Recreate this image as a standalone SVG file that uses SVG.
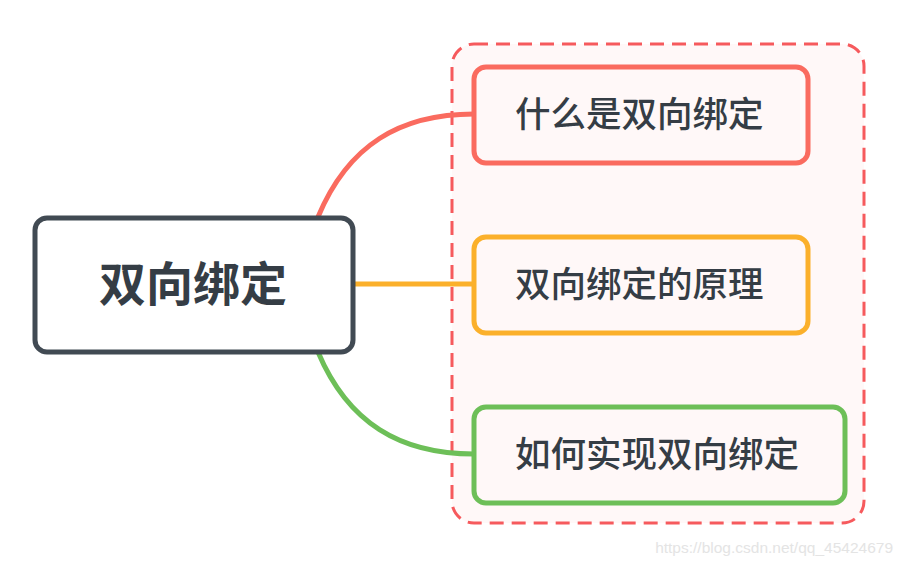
<svg xmlns="http://www.w3.org/2000/svg" width="902" height="566" viewBox="0 0 902 566">
<style>
text{font-family:"Noto Sans CJK SC","Liberation Sans",sans-serif;fill:#353d45}
.c{font-size:35.5px;font-weight:500}
.n{fill:#fff8f8;stroke-width:5}
.l{fill:none;stroke-width:5}
</style>
<rect width="902" height="566" fill="#fff"/>
<rect x="452" y="44" width="412" height="479" rx="22" fill="#fff8f8" stroke="#f65a5d" stroke-width="3" stroke-dasharray="14,8"/>
<g id="connectors">
<path class="l" stroke="#fa6b5f" d="M318,217 C348,145 400,114 474,114"/>
<path class="l" stroke="#fbb02b" d="M353,284 H474"/>
<path class="l" stroke="#6dbf58" d="M318,352 C348,423 400,454 474,454"/>
</g>
<g id="root">
<rect x="35" y="218" width="318" height="134" rx="12" fill="#fff" stroke="#414a53" stroke-width="5"/>
<text x="193" y="301" font-size="47" font-weight="bold" text-anchor="middle">双向绑定</text>
</g>
<g id="n1">
<rect class="n" x="474" y="67" width="334" height="96" rx="12" stroke="#fa6b5f"/>
<text class="c" x="515" y="127">什么是双向绑定</text>
</g>
<g id="n2">
<rect class="n" x="474" y="237" width="334" height="96" rx="12" stroke="#fbb02b"/>
<text class="c" x="515" y="297">双向绑定的原理</text>
</g>
<g id="n3">
<rect class="n" x="474" y="407" width="371" height="96" rx="12" stroke="#6dbf58"/>
<text class="c" x="515" y="467">如何实现双向绑定</text>
</g>
<text x="893" y="553" font-size="15.5" text-anchor="end" style="fill:#e4e4e4;font-family:'Liberation Sans',sans-serif">https://blog.csdn.net/qq_45424679</text>
</svg>
